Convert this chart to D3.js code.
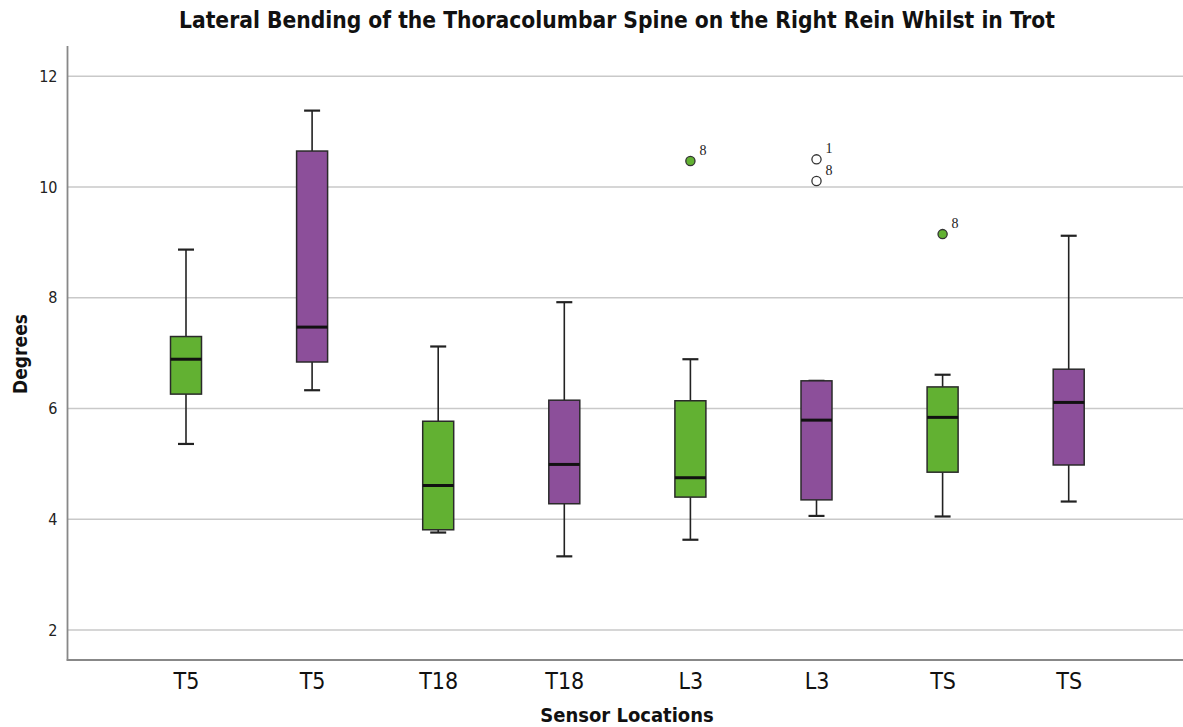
<!DOCTYPE html>
<html>
<head>
<meta charset="utf-8">
<script src="https://cdn.jsdelivr.net/npm/d3@7"></script>
<style>
  html, body { margin: 0; padding: 0; background: #fff; }
  svg { display: block; }
</style>
</head>
<body>
<svg id="chart" width="1183" height="727"></svg>
<script>
// ---- data ----
const categories = ["T5", "T5", "T18", "T18", "L3", "L3", "TS", "TS"];
const groups     = ["A", "B", "A", "B", "A", "B", "A", "B"];
const whiskerLow = [5.36, 6.33, 3.76, 3.33, 3.63, 4.06, 4.05, 4.32];
const q1         = [6.26, 6.84, 3.81, 4.28, 4.40, 4.35, 4.85, 4.98];
const medians    = [6.89, 7.47, 4.61, 4.99, 4.75, 5.79, 5.84, 6.11];
const q3         = [7.30, 10.65, 5.77, 6.15, 6.14, 6.50, 6.39, 6.71];
const whiskerHigh= [8.87, 11.38, 7.12, 7.92, 6.89, 6.50, 6.61, 9.12];
// outliers: box index, value, case label
const outlierBox   = [4, 5, 5, 6];
const outlierValue = [10.47, 10.50, 10.11, 9.15];
const outlierLabel = ["8", "1", "8", "8"];
const yTicks = [2, 4, 6, 8, 10, 12];
const title = "Lateral Bending of the Thoracolumbar Spine on the Right Rein Whilst in Trot";
const xTitle = "Sensor Locations";
const yTitle = "Degrees";

// ---- layout ----
const svg = d3.select("#chart");
const M = { left: 67.5, right: 1183, top: 46, bottom: 660 };
const colors = { A: "#62b132", B: "#8c4f9a" };

const y = d3.scaleLinear().domain([1.458, 12.547]).range([M.bottom, M.top]);
const x = d3.scalePoint().domain(d3.range(categories.length)).range([186, 1068.7]);

const condensed = "'DejaVu Sans Condensed', 'DejaVu Sans', sans-serif";

// gridlines
svg.append("g").selectAll("line").data(yTicks).join("line")
  .attr("x1", M.left).attr("x2", M.right)
  .attr("y1", d => y(d)).attr("y2", d => y(d))
  .attr("stroke", "#c9c9c9").attr("stroke-width", 1.6);

// y axis
const yAxis = svg.append("g").attr("transform", `translate(${M.left},0)`)
  .call(d3.axisLeft(y).tickValues(yTicks).tickSize(0).tickPadding(10));
yAxis.select(".domain").remove();
yAxis.selectAll(".tick text").attr("font-family", condensed).attr("font-size", 16).attr("fill", "#222");

// x axis
const xAxis = svg.append("g").attr("transform", `translate(0,${M.bottom})`)
  .call(d3.axisBottom(x).tickSize(0).tickPadding(12).tickFormat(i => categories[i]));
xAxis.select(".domain").remove();
xAxis.selectAll(".tick text").attr("font-family", condensed).attr("font-size", 23).attr("fill", "#111")
  .attr("dy", "0.75em");

// axis lines
svg.append("line").attr("x1", M.left).attr("x2", M.left).attr("y1", M.top).attr("y2", M.bottom + 0.8)
  .attr("stroke", "#888").attr("stroke-width", 1.8);
svg.append("line").attr("x1", M.left - 0.8).attr("x2", M.right).attr("y1", M.bottom).attr("y2", M.bottom)
  .attr("stroke", "#888").attr("stroke-width", 1.8);

// boxes
const boxW = 31, capW = 16;
const idx = d3.range(categories.length);
const g = svg.append("g");
const box = g.selectAll("g.box").data(idx).join("g").attr("class", "box");
box.append("line")
  .attr("x1", i => x(i)).attr("x2", i => x(i))
  .attr("y1", i => y(whiskerHigh[i])).attr("y2", i => y(q3[i]))
  .attr("stroke", "#222").attr("stroke-width", 1.6);
box.append("line")
  .attr("x1", i => x(i)).attr("x2", i => x(i))
  .attr("y1", i => y(q1[i])).attr("y2", i => y(whiskerLow[i]))
  .attr("stroke", "#222").attr("stroke-width", 1.6);
box.append("line")
  .attr("x1", i => x(i) - capW / 2).attr("x2", i => x(i) + capW / 2)
  .attr("y1", i => y(whiskerHigh[i])).attr("y2", i => y(whiskerHigh[i]))
  .attr("stroke", "#222").attr("stroke-width", 2.2);
box.append("line")
  .attr("x1", i => x(i) - capW / 2).attr("x2", i => x(i) + capW / 2)
  .attr("y1", i => y(whiskerLow[i])).attr("y2", i => y(whiskerLow[i]))
  .attr("stroke", "#222").attr("stroke-width", 2.2);
box.append("rect")
  .attr("x", i => x(i) - boxW / 2).attr("width", boxW)
  .attr("y", i => y(q3[i])).attr("height", i => y(q1[i]) - y(q3[i]))
  .attr("fill", i => colors[groups[i]]).attr("stroke", "#2a2a2a").attr("stroke-width", 1.5);
box.append("line")
  .attr("x1", i => x(i) - boxW / 2).attr("x2", i => x(i) + boxW / 2)
  .attr("y1", i => y(medians[i])).attr("y2", i => y(medians[i]))
  .attr("stroke", "#111").attr("stroke-width", 3);

// outliers
const oi = d3.range(outlierValue.length);
g.selectAll("circle.out").data(oi).join("circle").attr("class", "out")
  .attr("cx", k => x(outlierBox[k])).attr("cy", k => y(outlierValue[k])).attr("r", 4.6)
  .attr("fill", k => groups[outlierBox[k]] === "A" ? colors.A : "#fff")
  .attr("stroke", "#333").attr("stroke-width", 1.3);
g.selectAll("text.out").data(oi).join("text").attr("class", "out")
  .attr("x", k => x(outlierBox[k]) + 9).attr("y", k => y(outlierValue[k]) - 6)
  .attr("font-family", "'Liberation Serif', 'DejaVu Serif', serif").attr("font-size", 14).attr("fill", "#222")
  .text(k => outlierLabel[k]);

// titles
svg.append("text").attr("x", 617).attr("y", 28).attr("text-anchor", "middle")
  .attr("font-family", condensed).attr("font-weight", "bold").attr("font-size", 22.6).attr("fill", "#111")
  .text(title);
svg.append("text").attr("x", 627).attr("y", 722).attr("text-anchor", "middle")
  .attr("font-family", condensed).attr("font-weight", "bold").attr("font-size", 20).attr("fill", "#111")
  .text(xTitle);
svg.append("text").attr("transform", "translate(27,354) rotate(-90)").attr("text-anchor", "middle")
  .attr("font-family", condensed).attr("font-weight", "bold").attr("font-size", 19).attr("fill", "#111")
  .text(yTitle);
</script>
</body>
</html>
